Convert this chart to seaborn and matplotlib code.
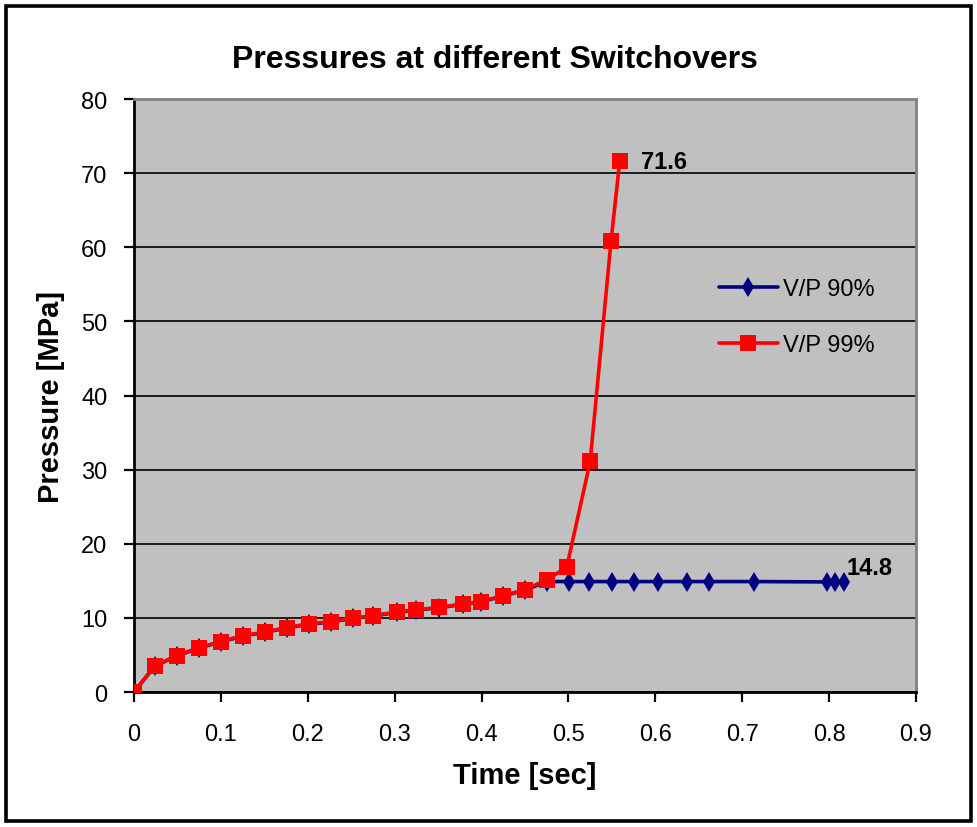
import pandas as pd
import matplotlib.pyplot as plt
import matplotlib.patches as patches
import seaborn as sns

# data
time_99 = [0, 0.024, 0.049, 0.075, 0.1, 0.125, 0.151, 0.176, 0.201, 0.227, 0.252, 0.275,
           0.303, 0.324, 0.351, 0.379, 0.399, 0.425, 0.45, 0.475, 0.498, 0.525, 0.549, 0.559]
press_99 = [0, 3.55, 4.9, 6.0, 6.8, 7.6, 8.1, 8.7, 9.2, 9.5, 10.0, 10.3,
            10.8, 11.1, 11.4, 11.9, 12.2, 13.0, 13.8, 15.15, 16.8, 31.1, 60.8, 71.6]

time_90 = [0, 0.024, 0.049, 0.075, 0.1, 0.125, 0.151, 0.176, 0.201, 0.227, 0.252, 0.275,
           0.303, 0.324, 0.351, 0.379, 0.399, 0.425, 0.45, 0.475, 0.501, 0.524, 0.55, 0.575,
           0.603, 0.637, 0.662, 0.713, 0.798, 0.807, 0.817]
press_90 = [0, 3.5, 4.85, 5.95, 6.75, 7.55, 8.05, 8.65, 9.15, 9.45, 9.95, 10.25,
            10.75, 11.05, 11.35, 11.85, 12.15, 12.95, 13.75, 14.9, 14.9, 14.9, 14.9, 14.9,
            14.9, 14.9, 14.9, 14.9, 14.85, 14.85, 14.8]

x_ticks = [0, 0.1, 0.2, 0.3, 0.4, 0.5, 0.6, 0.7, 0.8, 0.9]
y_ticks = [0, 10, 20, 30, 40, 50, 60, 70, 80]

df90 = pd.DataFrame({"Time": time_90, "Pressure": press_90})
df99 = pd.DataFrame({"Time": time_99, "Pressure": press_99})

sns.set_style("white")
plt.rcParams["font.family"] = ["Liberation Sans", "DejaVu Sans"]
plt.rcParams["text.color"] = "black"
plt.rcParams["axes.labelcolor"] = "black"
plt.rcParams["xtick.color"] = "black"
plt.rcParams["ytick.color"] = "black"

fig = plt.figure(figsize=(9.78, 8.28), dpi=100)
ax = fig.add_axes([134 / 978, 1 - 693 / 828, 782 / 978, 593 / 828])
ax.set_facecolor("#C0C0C0")

# outer black frame
fig.patches.append(patches.Rectangle((6.5 / 978, 6.5 / 828), 965 / 978, 815 / 828,
                                     transform=fig.transFigure, fill=False,
                                     edgecolor="black", linewidth=2.6))

sns.lineplot(data=df90, x="Time", y="Pressure", ax=ax, color="#000080", marker="d",
             markersize=10.5, markeredgewidth=0, linewidth=2.6, estimator=None,
             label="V/P 90%", zorder=3)
sns.lineplot(data=df99, x="Time", y="Pressure", ax=ax, color="#FF0000", marker="s",
             markersize=12, markeredgewidth=0, linewidth=2.6, estimator=None,
             label="V/P 99%", zorder=4)

ax.set_xlim(0, 0.9)
ax.set_ylim(0, 80)
ax.set_xticks(x_ticks)
ax.set_xticklabels([f"{t:g}" for t in x_ticks])
ax.set_yticks(y_ticks)

ax.yaxis.grid(True, color="black", linewidth=1.2)
ax.set_axisbelow(True)

for side in ["left", "bottom"]:
    ax.spines[side].set_color("black")
    ax.spines[side].set_linewidth(2)
for side in ["top", "right"]:
    ax.spines[side].set_color("#808080")
    ax.spines[side].set_linewidth(2)

ax.tick_params(axis="both", direction="out", length=7, width=1.6, colors="black",
               labelsize=17, left=True, bottom=True)
ax.tick_params(axis="y", pad=12)
ax.tick_params(axis="x", pad=15)

ax.set_xlabel("Time [sec]", fontsize=21, fontweight="bold", labelpad=12)
ax.set_ylabel("Pressure [MPa]", fontsize=21, fontweight="bold", labelpad=12)
fig.text(495 / 978, 1 - 60 / 828, "Pressures at different Switchovers",
         fontsize=23, fontweight="bold", ha="center", va="center")

# data labels on last points
ax.annotate(f"{press_99[-1]:g}", (time_99[-1], press_99[-1]), xytext=(15, 0),
            textcoords="offset points", fontsize=17, fontweight="bold", va="center")
ax.annotate(f"{press_90[-1]:g}", (time_90[-1], press_90[-1]), xytext=(2, 11),
            textcoords="offset points", fontsize=17, fontweight="bold", va="center")

ax.legend(loc="upper left", bbox_to_anchor=(0.748, 0.698), frameon=False, fontsize=17,
          handlelength=2.5, handletextpad=0.2, labelspacing=1.45, borderpad=0,
          borderaxespad=0)

plt.savefig("out.png", dpi=100)
plt.close()
